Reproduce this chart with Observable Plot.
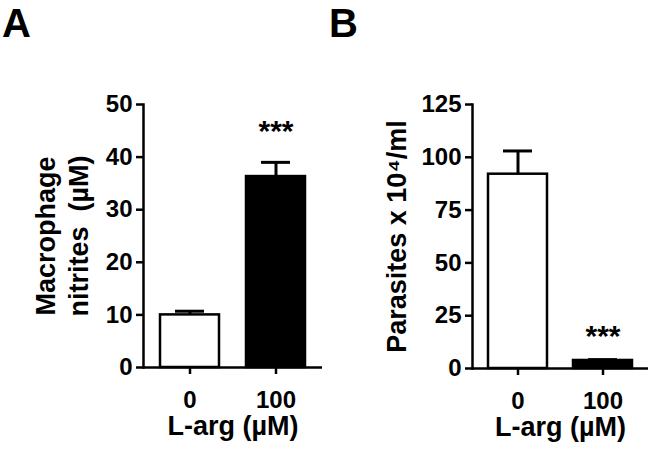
<!DOCTYPE html>
<html>
<head>
<meta charset="utf-8">
<script src="https://cdn.jsdelivr.net/npm/d3@7"></script>
<script src="https://cdn.jsdelivr.net/npm/@observablehq/plot@0.6"></script>
<style>
  html, body { margin: 0; padding: 0; background: white; }
  #wrap { position: relative; width: 650px; height: 449px; overflow: hidden; font-family: "Liberation Sans", Arial, sans-serif; }
  .panel { position: absolute; top: 0; width: 325px; height: 449px; }
  .letter { position: absolute; top: 3px; font-size: 40px; line-height: 40px; font-weight: bold; color: black; font-family: "Liberation Sans", Arial, sans-serif; }
</style>
</head>
<body>
<div id="wrap">
  <div class="panel" id="pa" style="left:0px"></div>
  <div class="panel" id="pb" style="left:325px"></div>
  <div class="letter" style="left:2px">A</div>
  <div class="letter" style="left:329px">B</div>
</div>
<script>
// ---- data ----
const doses = ["0", "100"];
const fills = ["white", "black"];
const sig = ["", "***"];
const nitriteMean = [10.0, 36.3];
const nitriteErr = [0.7, 2.7];
const parasiteMean = [92.0, 3.8];
const parasiteErr = [11.0, 0.4];
const nitriteTicks = [0, 10, 20, 30, 40, 50];
const parasiteTicks = [0, 25, 50, 75, 100, 125];
const xTitle = "L-arg (\u00B5M)";
const nitriteTitle = "Macrophage\nnitrites  (\u00B5M)";
const parasiteTitle = "Parasites x 10\u2074/ml";

function makePanel(opts) {
  const data = doses.map((d, i) => ({
    dose: d, mean: opts.mean[i], hi: opts.mean[i] + opts.err[i], fill: fills[i], sig: sig[i]
  }));
  const font = "\"Liberation Sans\", Arial, sans-serif";
  return Plot.plot({
    width: 325,
    height: 449,
    marginLeft: opts.marginLeft,
    marginRight: opts.marginRight,
    marginTop: 104,
    marginBottom: opts.marginBottom,
    style: { fontFamily: font, fontSize: "24px", fontWeight: "bold", color: "black", background: "white" },
    x: { type: "band", domain: doses, paddingInner: 0.31, paddingOuter: 0.19, label: null },
    y: { domain: [0, opts.yMax], ticks: opts.ticks, label: null },
    color: { type: "identity" },
    marks: [
      Plot.barY(data, { x: "dose", y: "mean", fill: "fill", stroke: "black", strokeWidth: 2.5 }),
      Plot.ruleX(data, { x: "dose", y1: "mean", y2: "hi", stroke: "black", strokeWidth: 3 }),
      Plot.tickY(data, { x: "dose", y: "hi", stroke: "black", strokeWidth: 3, insetLeft: 15, insetRight: 15 }),
      Plot.text(data, { x: "dose", y: "hi", text: "sig", lineAnchor: "bottom", dy: opts.starDy, fontSize: 30, fontWeight: "bold", fill: "black" }),
      Plot.ruleY([0], { stroke: "black", strokeWidth: 2.5 }),
      Plot.frame({ anchor: "left", stroke: "black", strokeWidth: 2.5 }),
      Plot.axisY({ ticks: opts.ticks, tickSize: 7, tickPadding: 4, strokeWidth: 2.5, fontSize: 24, fontWeight: "bold", label: null }),
      Plot.axisX({ tickSize: 7, tickPadding: 16, strokeWidth: 2.5, fontSize: 24, fontWeight: "bold", label: null }),
      Plot.text([xTitle], { frameAnchor: "bottom", lineAnchor: "top", dy: 48, fontSize: 27, fontWeight: "bold", fill: "black" }),
      Plot.text([opts.title], { frameAnchor: "left", rotate: -90, textAnchor: "middle", lineAnchor: "bottom", lineHeight: 1.2, dx: opts.titleDx, fontSize: 27, fontWeight: "bold", fill: "black" })
    ]
  });
}

document.getElementById("pa").appendChild(makePanel({
  mean: nitriteMean, err: nitriteErr, ticks: nitriteTicks, yMax: 50,
  marginLeft: 143, marginRight: 3, marginBottom: 82, title: nitriteTitle, titleDx: -56, starDy: -21
}));
document.getElementById("pb").appendChild(makePanel({
  mean: parasiteMean, err: parasiteErr, ticks: parasiteTicks, yMax: 125,
  marginLeft: 147, marginRight: 2, marginBottom: 81, title: parasiteTitle, titleDx: -67, starDy: -14
}));
</script>
</body>
</html>
